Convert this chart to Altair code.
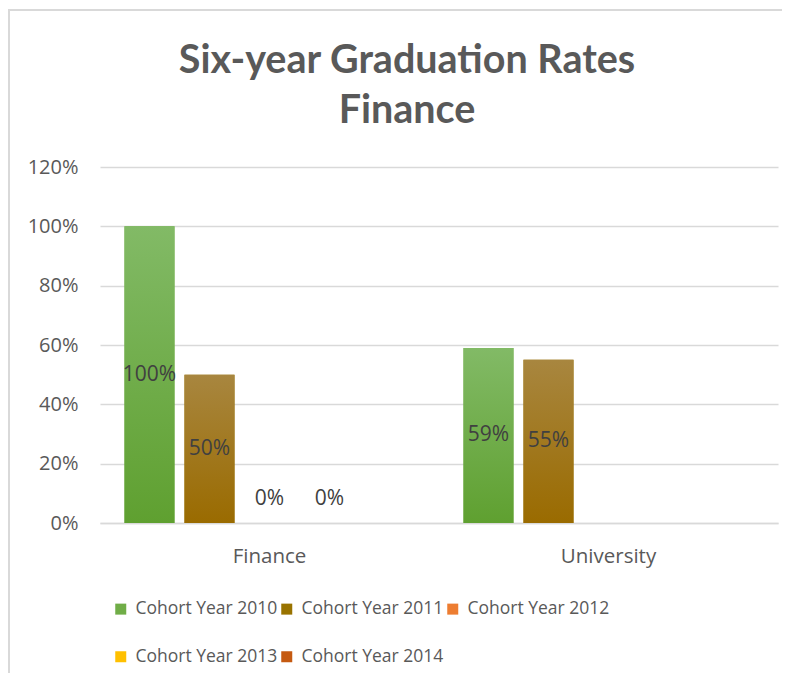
import altair as alt
import pandas as pd

groups = ["Finance", "University"]
series = ["Cohort Year 2010", "Cohort Year 2011", "Cohort Year 2012",
          "Cohort Year 2013", "Cohort Year 2014"]
finance_vals = [1.00, 0.50, 0.00, 0.00, None]
university_vals = [0.59, 0.55, None, None, None]

legend_colors = ["#70ad47", "#997300", "#ed7d31", "#ffc000", "#c55a11"]
grad_top = ["#82ba66", "#a8863f", "#f4a373", "#ffd75a", "#d9773f"]
grad_bot = ["#5fa030", "#9a6b00", "#ea6a1c", "#f6b900", "#c85000"]

rows = []
for g, vals in zip(groups, [finance_vals, university_vals]):
    for s, v in zip(series, vals):
        if v is not None:
            rows.append({"group": g, "series": s, "value": v})
df = pd.DataFrame(rows)

FONT = "Open Sans"
TXT = "#595959"

x_enc = alt.X("group:N", sort=groups,
              scale=alt.Scale(paddingInner=0, paddingOuter=0),
              axis=alt.Axis(title=None, labelAngle=0, ticks=False,
                            labelFontSize=20.5, labelColor=TXT, labelFont=FONT,
                            labelPadding=23, domainColor="#d9d9d9",
                            domainWidth=1.5))
xo_enc = alt.XOffset("series:N", sort=series,
                     scale=alt.Scale(domain=series, paddingInner=1/6,
                                     paddingOuter=0.408))
y_enc = alt.Y("value:Q",
              scale=alt.Scale(domain=[0, 1.2], nice=False),
              axis=alt.Axis(title=None, format=".0%",
                            values=[0, 0.2, 0.4, 0.6, 0.8, 1.0, 1.2],
                            domain=False, ticks=False, labelPadding=22,
                            labelFontSize=20, labelColor=TXT, labelFont=FONT,
                            gridColor="#d9d9d9", gridWidth=1.5))

base = alt.Chart(df).encode(x=x_enc, xOffset=xo_enc, y=y_enc)

legend_layer = base.mark_bar().encode(
    color=alt.Color("series:N", sort=series,
                    scale=alt.Scale(domain=series, range=legend_colors),
                    legend=alt.Legend(title=None, orient="none",
                                      legendX=12, legendY=433,
                                      direction="horizontal", columns=3,
                                      symbolType="square", symbolSize=121,
                                      symbolStrokeWidth=0,
                                      labelFontSize=17.5, labelColor=TXT,
                                      labelFont=FONT, columnPadding=0,
                                      rowPadding=29, labelOffset=6,
                                      labelLimit=300))
)

layers = [legend_layer]
for s, t, b in zip(series, grad_top, grad_bot):
    layers.append(
        base.transform_filter(alt.datum.series == s).mark_bar(
            fill=alt.Gradient(gradient="linear",
                              stops=[alt.GradientStop(color=t, offset=0),
                                     alt.GradientStop(color=b, offset=1)],
                              x1=0, x2=0, y1=0, y2=1)
        )
    )

labels = alt.Chart(df).transform_calculate(
    lab_y="max(datum.value / 2, 0.08)"
).mark_text(fontSize=21, font=FONT, color="#404040", baseline="middle").encode(
    x=x_enc, xOffset=xo_enc,
    y=alt.Y("lab_y:Q", scale=alt.Scale(domain=[0, 1.2], nice=False)),
    text=alt.Text("value:Q", format=".0%"),
)
layers.append(labels)

frame_top = alt.Chart(df).mark_rule(color="#d9d9d9", strokeWidth=2).encode(
    x=alt.value(-95), x2=alt.value(690), y=alt.value(-157))
frame_left = alt.Chart(df).mark_rule(color="#d9d9d9", strokeWidth=2).encode(
    x=alt.value(-91), y=alt.value(-157), y2=alt.value(510))
layers += [frame_top, frame_left]

chart = alt.layer(*layers).properties(
    width=678, height=356,
    title=alt.Title(["Six-year Graduation Rates", "Finance"],
                    fontSize=39.5, font="Lato", fontWeight="bold",
                    color=TXT, anchor="middle", dx=-32, offset=0, dy=122,
                    lineHeight=50),
    autosize=alt.AutoSizeParams(type="none"),
    padding={"left": 92, "top": 159, "right": 4, "bottom": 150},
).configure_view(stroke=None)

chart.save("out.html", embed_options={"renderer": "svg", "actions": False})
